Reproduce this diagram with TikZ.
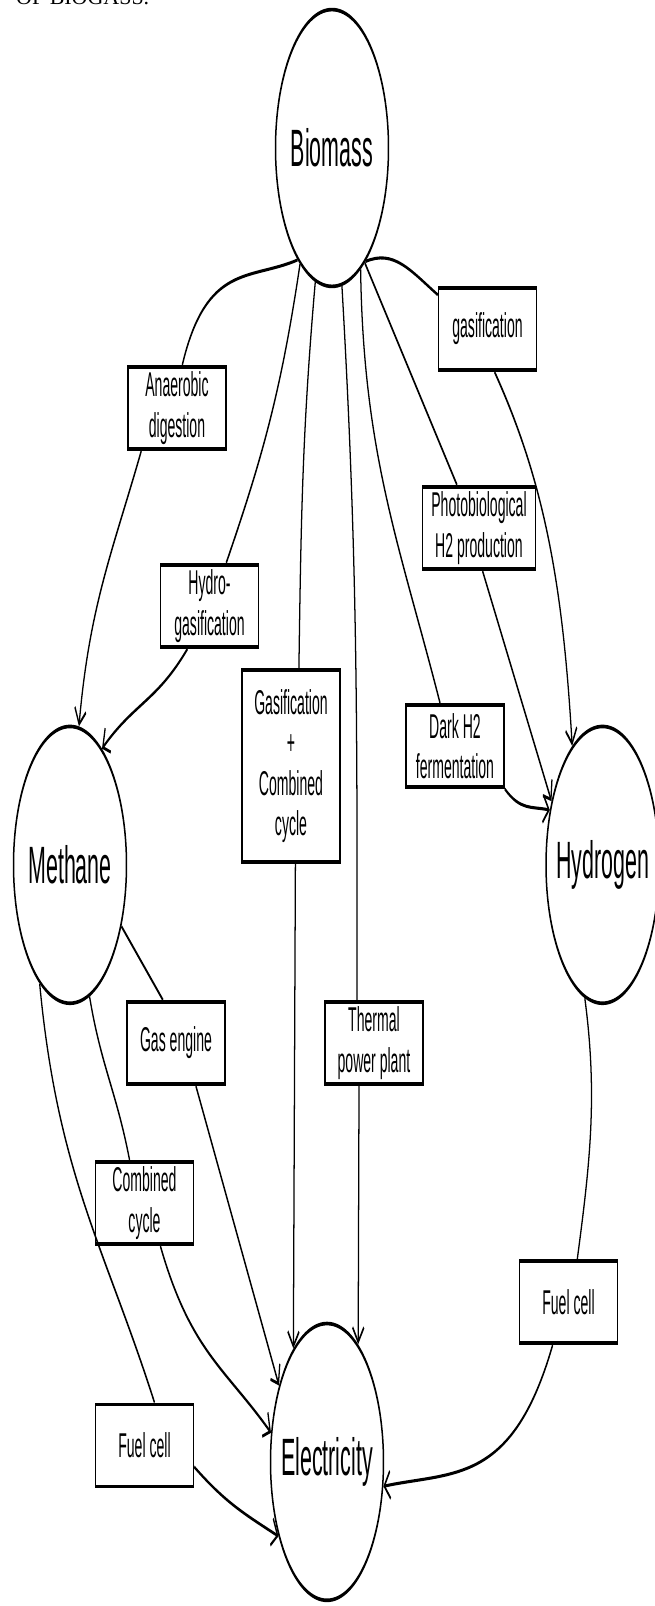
\documentclass[tikz,border=0pt]{standalone}
\usepackage{fontspec}
\setmainfont{Liberation Sans}
\newfontfamily\capfont{Liberation Serif}
\usetikzlibrary{arrows.meta, positioning}

\begin{document}
\begin{tikzpicture}[x=0.02cm, y=-0.02cm,
    hub/.style={draw, circle, line width=0.85pt, minimum size=2.26cm, inner sep=0pt, font=\fontsize{12.2}{14}\selectfont},
    proc/.style={draw, rectangle, line width=0.85pt, minimum width=1.96cm, minimum height=0.67cm, inner xsep=5pt, inner ysep=1pt, align=center, font=\fontsize{8}{9.4}\selectfont},
    link/.style={line width=0.72pt},
    flow/.style={link, -{Straight Barb[length=3.4pt, width=6.4pt]}}]
  \useasboundingbox (0,0) rectangle (654,1606);
  \node[anchor=base west, font=\capfont\fontsize{12.5}{14}\selectfont] (caption) at (10,4.5) {OF BIOGASS.};

  % the whole figure is stretched vertically
  \begin{scope}[transform canvas={yscale=2.45}]
    \node[hub] (Biomass) at (332,60.4) {Biomass};
    \node[hub] (Methane) at (70,353) {Methane};
    \node[hub] (Hydrogen) at (602.5,353) {Hydrogen};
    \node[hub] (Electricity) at (327,596.7) {Electricity};

    % routes from biomass
    \node[proc] (anaer) at (177,166.5) {Anaerobic\\digestion};
    \node[proc] (hydro) at (209.5,247.3) {Hydro-\\gasification};
    \node[proc, minimum height=1.57cm] (gascc) at (291,312.7) {Gasification\\+\\Combined\\cycle};
    \node[proc] (gasif) at (487.5,134.3) {gasification};
    \node[proc] (photo) at (479,215.5) {Photobiological\\H2 production};
    \node[proc] (dark) at (455,304.5) {Dark H2\\fermentation};

    % routes to electricity
    \node[proc] (gaseng) at (176,425.7) {Gas engine};
    \node[proc, right=1.97cm of gaseng] (thermal) {Thermal\\power plant};
    \node[proc] (cc) at (144.5,491) {Combined\\cycle};
    \node[proc, below=1.28cm of cc] (fcl) {Fuel cell};
    \node[proc] (fcr) at (568.5,531.4) {Fuel cell};

    \draw[link] (Biomass.233) to[out=190, in=60] ([xshift=3pt]anaer.north);
    \draw[flow] ([xshift=8pt]anaer.south west) to[out=235, in=78] (Methane.81);
    \draw[link] (Biomass.236) to[out=250, in=50] ([xshift=9.5pt]hydro.north);
    \draw[flow] ([xshift=-12.5pt]hydro.south) to[out=215, in=30] (Methane.56);
    \draw[link] (Biomass.253) to[out=258, in=88] ([xshift=4.5pt]gascc.north);
    \draw[flow] ([xshift=2.5pt]gascc.south) -- (Electricity.126);
    \draw[link] (Biomass.280) to[out=278, in=90] ([xshift=-9.6pt]thermal.north);
    \draw[flow] ([xshift=-8.5pt]thermal.south) -- (Electricity.57);
    \draw[link] (Biomass.300) to[out=272, in=122] ([xshift=-8.5pt]dark.north);
    \draw[flow] (dark.south east) to[out=330, in=175] (Hydrogen.157);
    \draw[link] (Biomass.305) -- ([xshift=-12.5pt]photo.north);
    \draw[flow] ([xshift=2pt]photo.south) -- (Hydrogen.153);
    \draw[link] (Biomass.306) to[out=10, in=160] ([yshift=-2pt]gasif.north west);
    \draw[flow] ([xshift=4pt]gasif.south) to[out=318, in=98] (Hydrogen.122);

    \draw[link] (Methane.334) -- ([xshift=-7.4pt]gaseng.north);
    \draw[flow] ([xshift=11.3pt]gaseng.south) -- (Electricity.147);
    \draw[link] (Methane.290) to[out=292, in=115] ([xshift=-8.5pt]cc.north);
    \draw[flow] ([xshift=9pt]cc.south) to[out=305, in=150] (Electricity.168);
    \draw[link] (Methane.238) to[out=283, in=128] ([xshift=5.7pt]fcl.north);
    \draw[flow] ([yshift=-5pt]fcl.east) to[out=335, in=165] (Electricity.212);
    \draw[link] (Hydrogen.252) to[out=288, in=72] ([xshift=5pt]fcr.north);
    \draw[flow] ([xshift=-9pt]fcr.south) to[out=235, in=5] (Electricity.350);
  \end{scope}
\end{tikzpicture}
\end{document}
